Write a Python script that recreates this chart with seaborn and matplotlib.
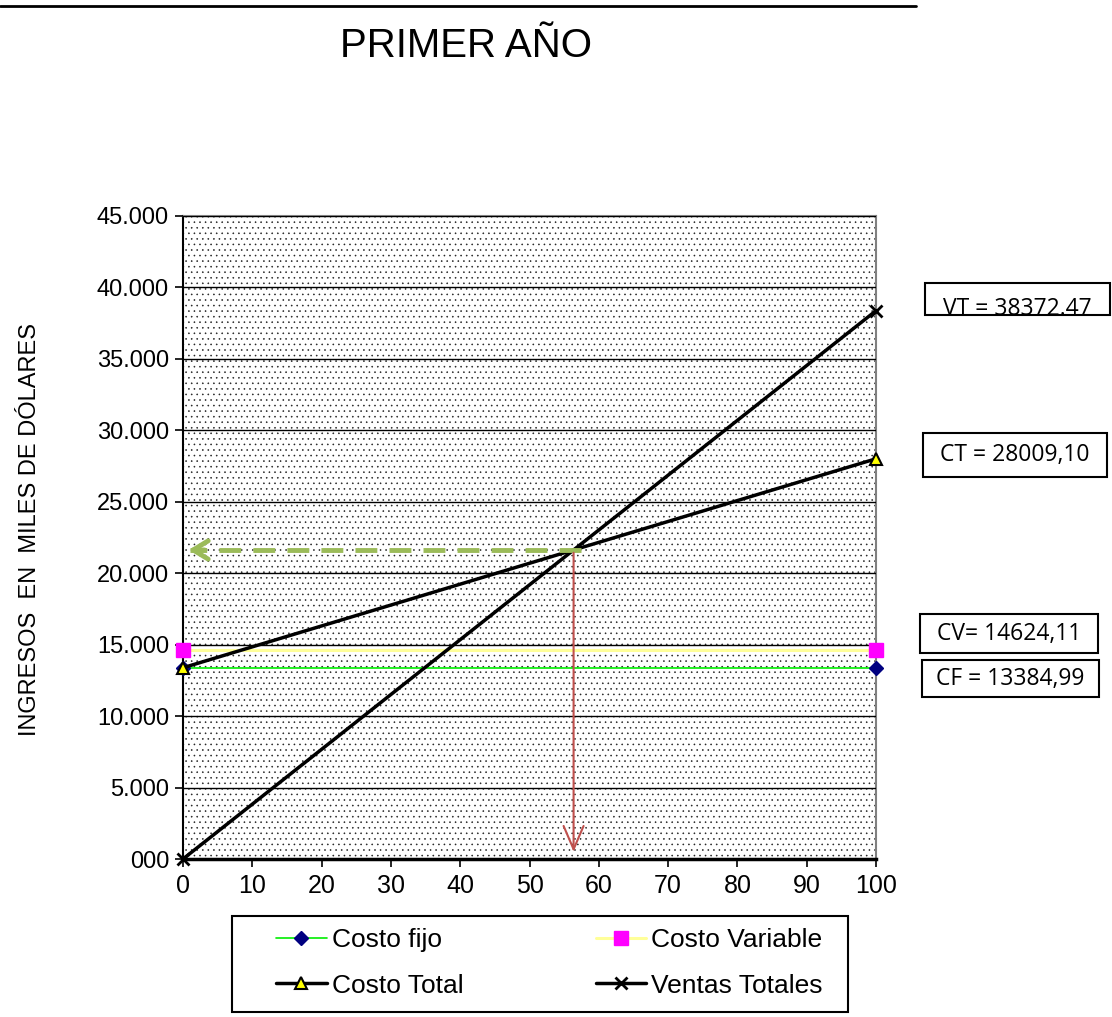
import matplotlib
matplotlib.use("Agg")
import matplotlib.pyplot as plt
import seaborn as sns
import pandas as pd
from matplotlib.patches import Rectangle
from matplotlib.lines import Line2D
from matplotlib.ticker import FuncFormatter, MultipleLocator

# --- data (miles de dólares) ---
produccion = [0, 100]
costo_fijo = [13384.99, 13384.99]
costo_variable = [14624.11, 14624.11]
costo_total = [13384.99, 28009.10]
ventas_totales = [0, 38372.47]

etiquetas = {
    "VT": "VT = 38372.47",
    "CT": "CT = 28009,10",
    "CV": "CV= 14624,11",
    "CF": "CF = 13384,99",
}

sns.set_theme(style="white")
plt.rcParams["font.family"] = ["Liberation Sans", "DejaVu Sans"]
plt.rcParams["text.color"] = "black"
plt.rcParams["xtick.color"] = "black"
plt.rcParams["ytick.color"] = "black"
plt.rcParams["hatch.linewidth"] = 0.4

df = pd.DataFrame({
    "x": produccion * 4,
    "valor": costo_fijo + costo_variable + costo_total + ventas_totales,
    "serie": ["Costo fijo"] * 2 + ["Costo Variable"] * 2
             + ["Costo Total"] * 2 + ["Ventas Totales"] * 2,
})

W, H = 1112, 1017
fig = plt.figure(figsize=(W / 100, H / 100), dpi=100)
ax = fig.add_axes([183 / W, 1 - 859 / H, (876 - 183) / W, (859 - 216) / H])

# dotted plot-area fill
bg = Rectangle((0, 0), 1, 1, transform=ax.transAxes, facecolor="white",
               edgecolor="#222222", hatch="...", linewidth=0, zorder=0)
ax.add_patch(bg)

estilos = {
    "Costo fijo": dict(color="#00ee00", lw=1.2, marker="D", ms=7,
                       mfc="#000080", mec="#000080"),
    "Costo Variable": dict(color="#ffff99", lw=2.2, marker="s", ms=10,
                           mfc="#ff00ff", mec="#ff00ff"),
    "Costo Total": dict(color="black", lw=2.5, marker="^", ms=9,
                        mfc="#ffff00", mec="black", mew=1.5),
    "Ventas Totales": dict(color="black", lw=2.5, marker="x", ms=9,
                           mec="black", mew=2),
}

for serie, st in estilos.items():
    sub = df[df["serie"] == serie]
    sns.lineplot(data=sub, x="x", y="valor", ax=ax, color=st["color"],
                 linewidth=st["lw"], marker=st["marker"], markersize=st["ms"],
                 markerfacecolor=st.get("mfc", "none"), markeredgecolor=st["mec"],
                 markeredgewidth=st.get("mew", 1), clip_on=False, zorder=4,
                 legend=False)

ax.set_xlim(0, 100)
ax.set_ylim(0, 45000)
ax.xaxis.set_major_locator(MultipleLocator(10))
ax.yaxis.set_major_locator(MultipleLocator(5000))

def miles(v, pos):
    if v == 0:
        return "000"
    return f"{int(v):,}".replace(",", ".")

ax.yaxis.set_major_formatter(FuncFormatter(miles))
ax.grid(axis="y", color="black", linewidth=1)
ax.grid(axis="x", visible=False)
ax.set_axisbelow(False)
for ln in ax.get_ygridlines():
    ln.set_zorder(1)

ax.tick_params(axis="both", direction="out", length=6, width=1.2,
               color="black", left=True, bottom=True, pad=4)
ax.tick_params(axis="y", labelsize=17)
ax.tick_params(axis="x", labelsize=18, pad=5)
ax.set_xlabel("")
ax.set_ylabel("")
for s in ["top", "right"]:
    ax.spines[s].set_color("#808080")
    ax.spines[s].set_linewidth(1.5)
ax.spines["left"].set_color("black")
ax.spines["left"].set_linewidth(1.5)
ax.spines["bottom"].set_color("black")
ax.spines["bottom"].set_linewidth(2.5)

# break-even point
a = costo_total[0]
b = (costo_total[1] - costo_total[0]) / (produccion[1] - produccion[0])
m = (ventas_totales[1] - ventas_totales[0]) / (produccion[1] - produccion[0])
x_eq = (a - ventas_totales[0]) / (m - b)
y_eq = a + b * x_eq

verde = "#9bbb59"
ax.plot([x_eq + 1.0, 1.0], [y_eq, y_eq], color=verde, lw=3.5,
        linestyle=(0, (4.5, 2.5)), zorder=5, solid_capstyle="butt")
ax.annotate("", xy=(0.4, y_eq), xytext=(3.5, y_eq),
            arrowprops=dict(arrowstyle="->,head_length=0.9,head_width=0.55",
                            color=verde, lw=3.5), zorder=5)
ax.annotate("", xy=(x_eq, 300), xytext=(x_eq, y_eq),
            arrowprops=dict(arrowstyle="->,head_length=1.4,head_width=0.6",
                            color="#c0504d", lw=1.5), zorder=5)

# titles
fig.add_artist(Line2D([0, 916 / W], [1 - 6 / H] * 2, color="black", lw=2))
fig.text(466 / W, 1 - 46 / H, "PRIMER AÑO", ha="center", va="center",
         fontsize=29)
fig.text(30 / W, 1 - 530 / H, "INGRESOS  EN  MILES DE DÓLARES",
         rotation=90, ha="center", va="center", fontsize=17)

# value boxes
def caja(x0, y0, x1, y1, texto, ty):
    rect = Rectangle((x0 / W, 1 - y1 / H), (x1 - x0) / W, (y1 - y0) / H,
                     transform=fig.transFigure, facecolor="white",
                     edgecolor="black", linewidth=1.5)
    fig.add_artist(rect)
    t = fig.text((x0 + x1) / 2 / W, 1 - ty / H, texto, ha="center",
                 va="center", fontsize=16.5, family=["Open Sans", "DejaVu Sans"])
    t.set_clip_path(rect)

caja(925, 283, 1110, 315, etiquetas["VT"], 309)
caja(923, 433, 1107, 477, etiquetas["CT"], 455)
caja(920, 614, 1098, 653, etiquetas["CV"], 634)
caja(922, 660, 1099, 697, etiquetas["CF"], 679)

# legend: frame drawn separately, entries placed inside it
fig.add_artist(Rectangle((232 / W, 1 - 1012 / H), (848 - 232) / W, (1012 - 916) / H,
                         transform=fig.transFigure, facecolor="white",
                         edgecolor="black", linewidth=1.5))
orden = ["Costo fijo", "Costo Total", "Costo Variable", "Ventas Totales"]
handles = []
for serie in orden:
    st = estilos[serie]
    handles.append(Line2D([], [], color=st["color"], lw=st["lw"], marker=st["marker"],
                          markersize=st["ms"], markerfacecolor=st.get("mfc", "none"),
                          markeredgecolor=st["mec"], markeredgewidth=st.get("mew", 1)))
leg = fig.legend(handles, orden, loc="upper left",
                 bbox_to_anchor=(276 / W, 1 - 928 / H),
                 ncol=2, fontsize=19, frameon=False,
                 handlelength=1.93, handletextpad=0.19,
                 labelspacing=0.82, borderpad=0, borderaxespad=0,
                 columnspacing=5.0)

fig.savefig("out.png", dpi=100)
